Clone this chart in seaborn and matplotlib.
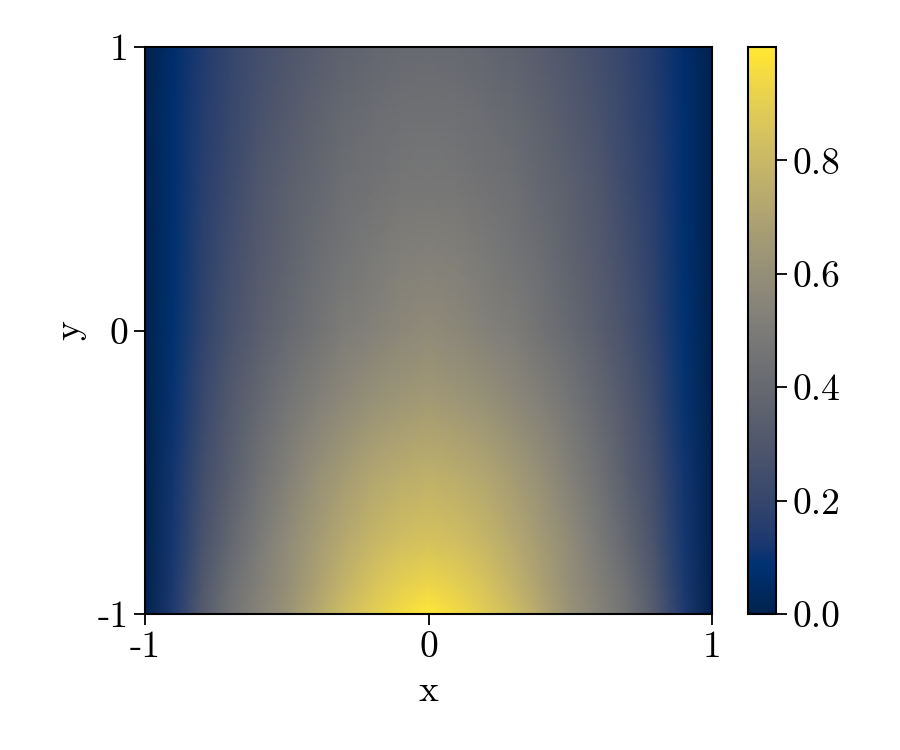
import numpy as np
import matplotlib
matplotlib.use("Agg")
import matplotlib.pyplot as plt
import seaborn as sns

# grid nodes (x from -1 to 1, y from -1 to 1)
x_nodes = [-1.0, -0.9, -0.8, -0.7, -0.6, -0.5, -0.4, -0.3, -0.2, -0.1, 0.0,
           0.1, 0.2, 0.3, 0.4, 0.5, 0.6, 0.7, 0.8, 0.9, 1.0]
y_nodes = [-1.0, -0.9, -0.75, -0.5, -0.25, 0.0, 0.25, 0.5, 0.75, 1.0]

# values, one list per y row
row_y_m100 = [0.0, 0.14, 0.32, 0.45, 0.54, 0.62, 0.72, 0.82, 0.89, 0.95, 1.0,
              0.95, 0.89, 0.82, 0.72, 0.62, 0.54, 0.45, 0.32, 0.14, 0.0]
row_y_m090 = [0.0, 0.13, 0.30, 0.43, 0.52, 0.60, 0.69, 0.78, 0.85, 0.90, 0.93,
              0.90, 0.85, 0.78, 0.69, 0.60, 0.52, 0.43, 0.30, 0.13, 0.0]
row_y_m075 = [0.0, 0.12, 0.27, 0.39, 0.49, 0.58, 0.66, 0.73, 0.79, 0.83, 0.85,
              0.83, 0.79, 0.73, 0.66, 0.58, 0.49, 0.39, 0.27, 0.12, 0.0]
row_y_m050 = [0.0, 0.11, 0.24, 0.34, 0.44, 0.52, 0.60, 0.66, 0.71, 0.74, 0.76,
              0.74, 0.71, 0.66, 0.60, 0.52, 0.44, 0.34, 0.24, 0.11, 0.0]
row_y_m025 = [0.0, 0.10, 0.21, 0.31, 0.39, 0.46, 0.52, 0.57, 0.61, 0.64, 0.66,
              0.64, 0.61, 0.57, 0.52, 0.46, 0.39, 0.31, 0.21, 0.10, 0.0]
row_y_000 = [0.0, 0.09, 0.18, 0.27, 0.34, 0.40, 0.45, 0.50, 0.53, 0.56, 0.58,
             0.56, 0.53, 0.50, 0.45, 0.40, 0.34, 0.27, 0.18, 0.09, 0.0]
row_y_025 = [0.0, 0.085, 0.17, 0.25, 0.32, 0.37, 0.42, 0.46, 0.49, 0.52, 0.53,
             0.52, 0.49, 0.46, 0.42, 0.37, 0.32, 0.25, 0.17, 0.085, 0.0]
row_y_050 = [0.0, 0.08, 0.16, 0.23, 0.30, 0.35, 0.39, 0.43, 0.45, 0.47, 0.48,
             0.47, 0.45, 0.43, 0.39, 0.35, 0.30, 0.23, 0.16, 0.08, 0.0]
row_y_075 = [0.0, 0.075, 0.15, 0.21, 0.27, 0.32, 0.36, 0.40, 0.42, 0.44, 0.445,
             0.44, 0.42, 0.40, 0.36, 0.32, 0.27, 0.21, 0.15, 0.075, 0.0]
row_y_100 = [0.0, 0.07, 0.14, 0.20, 0.25, 0.29, 0.33, 0.36, 0.385, 0.40, 0.41,
             0.40, 0.385, 0.36, 0.33, 0.29, 0.25, 0.20, 0.14, 0.07, 0.0]

x_ticks = [-1, 0, 1]
x_tick_labels = ["-1", "0", "1"]
y_ticks = [-1, 0, 1]
y_tick_labels = ["-1", "0", "1"]
cb_ticks = [0.0, 0.2, 0.4, 0.6, 0.8]
cb_tick_labels = ["0.0", "0.2", "0.4", "0.6", "0.8"]

sns.set_theme(style="ticks")
plt.rcParams["font.family"] = ["cmr10", "DejaVu Serif"]
plt.rcParams["mathtext.fontset"] = "cm"
plt.rcParams["axes.unicode_minus"] = False
plt.rcParams["axes.formatter.use_mathtext"] = True
for key in ["text.color", "axes.labelcolor", "xtick.color", "ytick.color",
            "xtick.labelcolor", "ytick.labelcolor", "axes.edgecolor"]:
    plt.rcParams[key] = "black"

Z = np.array([row_y_m100, row_y_m090, row_y_m075, row_y_m050, row_y_m025,
              row_y_000, row_y_025, row_y_050, row_y_075, row_y_100])
X, Y = np.meshgrid(x_nodes, y_nodes)

cmap = sns.color_palette("cividis", as_cmap=True)

fig = plt.figure(figsize=(9, 7.5), dpi=100)
ax = fig.add_axes([145 / 900, 1 - 614 / 750, 567 / 900, 567 / 750])
cax = fig.add_axes([748 / 900, 1 - 614 / 750, 28 / 900, 567 / 750])

mesh = ax.pcolormesh(X, Y, Z, shading="gouraud", cmap=cmap, vmin=0.0, vmax=1.0,
                     rasterized=True)
ax.set_xlim(-1, 1)
ax.set_ylim(-1, 1)

fs = 27
ax.set_xticks(x_ticks)
ax.set_xticklabels(x_tick_labels)
ax.set_yticks(y_ticks)
ax.set_yticklabels(y_tick_labels)
ax.tick_params(axis="both", labelsize=fs, length=8, width=1.3, color="black",
               labelcolor="black", direction="out", pad=4)
ax.set_xlabel("x", fontsize=fs, labelpad=8, color="black")
ax.set_ylabel("y", fontsize=fs, labelpad=8, color="black")
for sp in ax.spines.values():
    sp.set_linewidth(1.5)
    sp.set_color("black")
    sp.set_visible(True)

cb = fig.colorbar(mesh, cax=cax)
cb.set_ticks(cb_ticks)
cb.set_ticklabels(cb_tick_labels)
cb.ax.tick_params(labelsize=fs, length=8, width=1.3, color="black",
                  labelcolor="black", pad=4)
cb.outline.set_linewidth(1.5)
cb.outline.set_edgecolor("black")

fig.savefig("out.png", dpi=100)
